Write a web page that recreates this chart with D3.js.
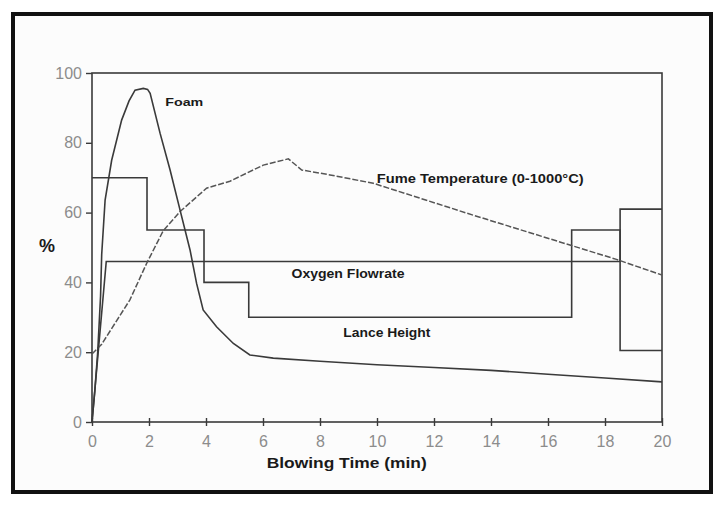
<!DOCTYPE html>
<html><head><meta charset="utf-8">
<script src="https://cdn.jsdelivr.net/npm/d3@7"></script>
<style>html,body{margin:0;padding:0;background:#fff;} svg{display:block;}</style>
</head><body><svg id="c" width="715" height="506"></svg>
<script>
// ---- data ----
const xTicks = [0, 2, 4, 6, 8, 10, 12, 14, 16, 18, 20];
const yTicks = [0, 20, 40, 60, 80, 100];

const foamTime   = [0, 0.1, 0.2, 0.3, 0.34, 0.46, 0.69, 1.04, 1.3, 1.51, 1.8, 1.95, 2.04, 2.39, 2.74, 3.09, 3.44, 3.67, 3.9, 4.37, 4.96, 5.54, 6.36, 8, 10, 12, 14, 16, 18, 20];
const foamValues = [0, 9, 20, 36, 48, 63.6, 75, 86.5, 92, 95.1, 95.6, 95.3, 94.2, 82.7, 72.2, 60.7, 49.3, 39.7, 32.1, 27.3, 22.5, 19.2, 18.3, 17.4, 16.4, 15.6, 14.8, 13.7, 12.6, 11.5];

const fumeTime   = [0, 0.34, 1.33, 1.92, 2.5, 3.09, 4.02, 4.84, 6.01, 6.89, 7.36, 8.35, 9.87, 13.4, 16.89, 18.4, 20];
const fumeValues = [19.5, 22.3, 35, 45.5, 54.8, 60.3, 67, 69, 73.6, 75.4, 72.2, 70.8, 68.4, 59.2, 50.4, 46.6, 42.1];

const oxygenTime   = [0, 0.5, 18.53, 18.53, 20];
const oxygenValues = [0, 46, 46, 61, 61];

const lanceTime   = [0, 1.93, 3.93, 5.5, 16.83, 18.53, 20];
const lanceValues = [70, 55, 40, 30, 55, 20.5, 20.5];

const labels = [
  {text: "Foam", t: 2.57, v: 91.8, w: 38, fs: 11},
  {text: "Fume Temperature (0-1000°C)", t: 9.99, v: 69.8, w: 207, fs: 13},
  {text: "Oxygen Flowrate", t: 7.0, v: 42.6, w: 113, fs: 13},
  {text: "Lance Height", t: 8.82, v: 25.7, w: 87, fs: 13}
];

// ---- chart ----
const svg = d3.select("#c");
const W = 715, H = 506;
svg.append("rect").attr("width", W).attr("height", H).attr("fill", "#fff");
svg.append("rect").attr("x", 13).attr("y", 14).attr("width", 698).attr("height", 478)
  .attr("fill", "#fcfcfc").attr("stroke", "#111").attr("stroke-width", 4);

const x = d3.scaleLinear().domain([0, 20]).range([92, 662]);
const y = d3.scaleLinear().domain([0, 100]).range([422, 73]);

const lineCol = "#3a3a3a";
const tickCol = "#8c8c8c";

// frame
svg.append("rect").attr("x", x(0)).attr("y", y(100))
  .attr("width", x(20) - x(0)).attr("height", y(0) - y(100))
  .attr("fill", "none").attr("stroke", lineCol).attr("stroke-width", 1.6);

// axes
const gx = svg.append("g").attr("transform", `translate(0,${y(0)})`)
  .call(d3.axisBottom(x).tickValues(xTicks).tickFormat(d3.format("d")).tickSize(4).tickPadding(10));
gx.select(".domain").remove();
gx.selectAll(".tick line").attr("y1", -4).attr("y2", 4).attr("stroke", lineCol).attr("stroke-width", 1.4);
gx.selectAll(".tick text").attr("fill", tickCol).attr("font-size", 16)
  .attr("font-family", "'Liberation Sans', Arial, sans-serif");

const gy = svg.append("g").attr("transform", `translate(${x(0)},0)`)
  .call(d3.axisLeft(y).tickValues(yTicks).tickFormat(d3.format("d")).tickSize(6).tickPadding(4));
gy.select(".domain").remove();
gy.selectAll(".tick line").attr("stroke", lineCol).attr("stroke-width", 1.4);
gy.selectAll(".tick text").attr("fill", tickCol).attr("font-size", 16)
  .attr("font-family", "'Liberation Sans', Arial, sans-serif");

// series
const mk = (ts, vs) => ts.map((t, i) => [t, vs[i]]);
const line = d3.line().x(d => x(d[0])).y(d => y(d[1]));
const stepLine = d3.line().x(d => x(d[0])).y(d => y(d[1])).curve(d3.curveStepAfter);

svg.append("path").datum(mk(oxygenTime, oxygenValues)).attr("d", line)
  .attr("fill", "none").attr("stroke", lineCol).attr("stroke-width", 1.6);
svg.append("path").datum(mk(lanceTime, lanceValues)).attr("d", stepLine)
  .attr("fill", "none").attr("stroke", lineCol).attr("stroke-width", 1.6);
svg.append("path").datum(mk(fumeTime, fumeValues)).attr("d", line)
  .attr("fill", "none").attr("stroke", "#555").attr("stroke-width", 1.5)
  .attr("stroke-dasharray", "6,2");
svg.append("path").datum(mk(foamTime, foamValues)).attr("d", line)
  .attr("fill", "none").attr("stroke", lineCol).attr("stroke-width", 1.6);

// series labels
labels.forEach(l => {
  svg.append("text").attr("x", x(l.t)).attr("y", y(l.v) + l.fs * 0.36)
    .attr("font-family", "'Liberation Sans', Arial, sans-serif")
    .attr("font-weight", "bold").attr("font-size", l.fs).attr("fill", "#1a1a1a")
    .attr("textLength", l.w).attr("lengthAdjust", "spacingAndGlyphs")
    .text(l.text);
});

// axis titles
svg.append("text").attr("x", 266.7).attr("y", 468)
  .attr("font-family", "'Liberation Sans', Arial, sans-serif")
  .attr("font-weight", "bold").attr("font-size", 15).attr("fill", "#1a1a1a")
  .attr("textLength", 160).attr("lengthAdjust", "spacingAndGlyphs")
  .text("Blowing Time (min)");
svg.append("text").attr("x", 47).attr("y", 252).attr("text-anchor", "middle")
  .attr("font-family", "'Liberation Sans', Arial, sans-serif")
  .attr("font-weight", "bold").attr("font-size", 18).attr("fill", "#1a1a1a")
  .text("%");
</script>
</body></html>
